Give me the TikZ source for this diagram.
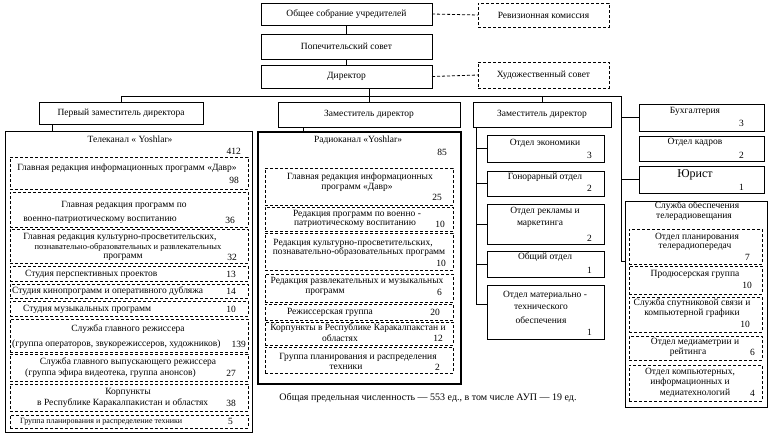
\documentclass[tikz,border=0pt]{standalone}
\usepackage{fontspec}
\setmainfont{Liberation Serif}
\begin{document}
\begin{tikzpicture}[x=1pt,y=-1pt,
 box/.style={draw, line width=0.8pt, inner sep=0pt, outer sep=0pt, anchor=north west},
 dbox/.style={box, dash pattern=on 3pt off 2pt},
 tbox/.style={box, line width=1.5pt},
 txt/.style={inner sep=0pt, font=\fontsize{9.5}{11}\selectfont},
 stxt/.style={inner sep=0pt, font=\fontsize{8.5}{10}\selectfont},
 lt/.style={txt, anchor=west},
 num/.style={txt, anchor=east},
 wire/.style={line width=0.8pt},
 dwire/.style={line width=0.8pt, dash pattern=on 3pt off 2pt}]
\newcommand\bx[6]{\node[#1, minimum width={#4-#2}, minimum height={#5-#3}] (#6) at (#2,#3) {};}
\path[use as bounding box] (0,0) rectangle (775,437);

% ---- top
\bx{box}{261}{3}{432}{25}{gen}
\node[txt] (genT) at (gen.center) {Общее собрание учредителей};
\bx{dbox}{478}{3}{609}{27}{rev}
\node[txt] (revT) at (rev.center) {Ревизионная комиссия};
\bx{box}{261}{34}{432}{59}{pop}
\node[txt] (popT) at (pop.center) {Попечительский совет};
\bx{box}{261}{65}{432}{88}{dir}
\node[txt] (dirT) at (dir.center) {Директор};
\bx{dbox}{478}{62}{609}{88}{hud}
\node[txt] (hudT) at (hud.center) {Художественный совет};
\draw[wire] (gen.south) -- (pop.north);
\draw[wire] (pop.south) -- (dir.north);
\draw[dwire] (gen.east) -- (rev.west);
\draw[dwire] (dir.east) -- (hud.west);

% ---- deputies
\bx{box}{39}{102}{203}{124}{fd}
\node[txt] (fdT) at (fd.center) {Первый заместитель директора};
\bx{box}{278}{102}{460}{127}{d2}
\node[txt] (d2T) at (d2.center) {Заместитель директор};
\bx{box}{473}{102}{611}{127}{d3}
\node[txt] (d3T) at (d3.center) {Заместитель директор};

\coordinate (busR) at (621,96);
\draw[wire] (fd.north) -- (fd.north |- busR) -- (busR);
\draw[wire] (dir.south -| d2.north) -- (d2.north);
\draw[wire] (d3.north) -- (d3.north |- busR);

% ---- right column
\bx{box}{639}{104}{764}{131}{buh}
\node[txt] (buhT) at (695,111) {Бухгалтерия};
\node[num] (buhN) at (744,123) {3};
\bx{box}{639}{136}{764}{161}{kad}
\node[txt] (kadT) at (695,142) {Отдел кадров};
\node[num] (kadN) at (744,155) {2};
\bx{box}{639}{166}{764}{193}{yur}
\node[inner sep=0pt, font=\fontsize{12}{13}\selectfont] (yurT) at (695,175) {Юрист};
\node[num] (yurN) at (744,187) {1};

\bx{box}{625}{201}{767}{407}{sl}
\node[txt] (slT1) at (697,206.5) {Служба обеспечения};
\node[txt] (slT2) at (694,217) {телерадиовещания};
\bx{dbox}{629}{229}{762}{264}{s1}
\node[txt] (s1a) at (697,237) {Отдел планирования};
\node[txt] (s1b) at (695,247) {телерадиопередач};
\node[num] (s1n) at (750,257) {7};
\bx{dbox}{629}{266}{762}{294}{s2}
\node[txt] (s2a) at (695,274) {Продюсерская группа};
\node[num] (s2n) at (752,285) {10};
\bx{dbox}{629}{297}{762}{332}{s3}
\node[txt] (s3a) at (692,303.5) {Служба спутниковой связи и};
\node[txt] (s3b) at (692,313.5) {компьютерной графики};
\node[num] (s3n) at (750,324) {10};
\bx{dbox}{629}{336}{762}{360}{s4}
\node[txt] (s4a) at (695,342.5) {Отдел медиаметрии и};
\node[txt] (s4b) at (688,352.5) {рейтинга};
\node[num] (s4n) at (755,352.5) {6};
\bx{dbox}{629}{365}{762}{401}{s5}
\node[txt] (s5a) at (690,372) {Отдел компьютерных,};
\node[txt] (s5b) at (690,382.5) {информационных и};
\node[txt] (s5c) at (695,393) {медиатехнологий};
\node[num] (s5n) at (755,393) {4};

\draw[wire] (busR) |- (sl.west |- 0,261);
\draw[wire] (busR |- buh.west) -- (buh.west);
\draw[wire] (busR |- yur.west) -- (yur.west);

% ---- third column
\bx{box}{487}{135}{604}{162}{eco}
\node[txt] (ecoT) at (545,143) {Отдел экономики};
\node[num] (ecoN) at (592,155) {3};
\bx{box}{487}{171}{604}{196}{hon}
\node[txt] (honT) at (545,177.5) {Гонорарный отдел};
\node[num] (honN) at (592,188) {2};
\bx{box}{487}{204}{604}{244}{rek}
\node[txt] (rekT1) at (545,211.5) {Отдел рекламы и};
\node[txt] (rekT2) at (540,224) {маркетинга};
\node[num] (rekN) at (592,238) {2};
\bx{box}{487}{251}{604}{277}{obs}
\node[txt] (obsT) at (545,257.5) {Общий отдел};
\node[num] (obsN) at (592,270) {1};
\bx{box}{487}{285}{604}{339}{mto}
\node[txt] (mtoT1) at (545,295) {Отдел материально -};
\node[txt] (mtoT2) at (541,307) {технического};
\node[txt] (mtoT3) at (541,320) {обеспечения};
\node[num] (mtoN) at (592,332) {1};

\coordinate (v3) at (476,0);
\draw[wire] (v3 |- d3.south) |- (mto.west |- 0,304);
\draw[wire] (v3 |- eco.west) -- (eco.west);
\draw[wire] (v3 |- hon.west) -- (hon.west);
\draw[wire] (v3 |- rek.west) -- (rek.west);
\draw[wire] (v3 |- obs.west) -- (obs.west);

% ---- radio column
\bx{tbox}{258}{132}{461}{384}{rad}
\draw[wire] (303,0 |- d2.south) -- (303,0 |- rad.north);
\node[txt] (radT) at (358,140.5) {Радиоканал «Yoshlar»};
\node[num] (radN) at (447,152) {85};
\bx{dbox}{265}{168}{453}{205}{m1}
\node[txt] (m1a) at (360,177) {Главная редакция информационных};
\node[txt] (m1b) at (357,187) {программ «Давр»};
\node[num] (m1n) at (442,197) {25};
\bx{dbox}{265}{207}{453}{231}{m2}
\node[txt] (m2a) at (357,214) {Редакция программ по военно -};
\node[txt] (m2b) at (355,224.5) {патриотическому воспитанию};
\node[num] (m2n) at (445,224.5) {10};
\bx{dbox}{265}{233}{453}{270}{m3}
\node[txt] (m3a) at (353,243) {Редакция культурно-просветительских,};
\node[txt] (m3b) at (359,252.5) {познавательно-образовательных программ};
\node[num] (m3n) at (446,263) {10};
\bx{dbox}{265}{274}{453}{302}{m4}
\node[txt] (m4a) at (357,281) {Редакция развлекательных и музыкальных};
\node[txt] (m4b) at (325,292) {программ};
\node[num] (m4n) at (442,292) {6};
\bx{dbox}{265}{304}{453}{320}{m5}
\node[txt] (m5a) at (330,312) {Режиссерская группа};
\node[num] (m5n) at (440,312) {20};
\bx{dbox}{265}{322}{453}{345}{m6}
\node[txt] (m6a) at (358,328.5) {Корпункты в Республике Каракалпакстан и};
\node[txt] (m6b) at (340,338.5) {областях};
\node[num] (m6n) at (443,338.5) {12};
\bx{dbox}{265}{347}{453}{373}{m7}
\node[txt] (m7a) at (358,357) {Группа планирования и распределения};
\node[txt] (m7b) at (346,367) {техники};
\node[num] (m7n) at (440,367) {2};

\node[inner sep=0pt, font=\fontsize{10}{12}\selectfont] (note) at (428,398) {Общая предельная численность — 553 ед., в том числе АУП — 19 ед.};

% ---- TV column
\bx{box}{5}{131}{252}{432}{tv}
\draw[wire] (52,0 |- fd.south) -- (52,0 |- tv.north);
\node[txt] (tvT) at (130,139) {Телеканал « Yoshlar»};
\node[num] (tvN) at (241,151) {412};
\bx{dbox}{10}{157}{248}{189}{l1}
\node[txt] (l1a) at (127,168) {Главная редакция информационных программ «Давр»};
\node[num] (l1n) at (239,180) {98};
\bx{dbox}{10}{192}{248}{227}{l2}
\node[txt] (l2a) at (124,205) {Главная редакция программ по};
\node[txt] (l2b) at (100,220) {военно-патриотическому воспитанию};
\node[num] (l2n) at (235,220) {36};
\bx{dbox}{10}{229}{248}{263}{l3}
\node[txt] (l3a) at (120,237) {Главная редакция культурно-просветительских,};
\node[stxt] (l3b) at (128,247) {познавательно-образовательных и развлекательных};
\node[txt] (l3c) at (123,257) {программ};
\node[num] (l3n) at (237,257) {32};
\bx{dbox}{10}{266}{248}{281}{l4}
\node[lt] (l4a) at (25,274) {Студия перспективных проектов};
\node[num] (l4n) at (236,274) {13};
\bx{dbox}{10}{284}{248}{298}{l5}
\node[lt] (l5a) at (12,291.5) {Студия кинопрограмм и оперативного дубляжа};
\node[num] (l5n) at (236,291.5) {14};
\bx{dbox}{10}{301}{248}{316}{l6}
\node[lt] (l6a) at (23,309) {Студия музыкальных программ};
\node[num] (l6n) at (236,309) {10};
\bx{dbox}{10}{319}{248}{352}{l7}
\node[txt] (l7a) at (128,329) {Служба главного режиссера};
\node[lt] (l7b) at (12,344) {(группа операторов, звукорежиссеров, художников)};
\node[num] (l7n) at (246,344) {139};
\bx{dbox}{10}{354}{248}{381}{l8}
\node[txt] (l8a) at (128,362) {Служба главного выпускающего режиссера};
\node[lt] (l8b) at (25,373) {(группа эфира видеотека, группа анонсов)};
\node[num] (l8n) at (236,373) {27};
\bx{dbox}{10}{384}{248}{411}{l9}
\node[txt] (l9a) at (128,392) {Корпункты};
\node[lt] (l9b) at (37,403) {в Республике Каракалпакистан и областях};
\node[num] (l9n) at (236,403) {38};
\bx{dbox}{10}{415}{248}{428}{l10}
\node[inner sep=0pt, font=\fontsize{8}{9}\selectfont, anchor=west] (l10a) at (20,421.5) {Группа планирования и распределение техники};
\node[num] (l10n) at (233,421.5) {5};
\end{tikzpicture}
\end{document}
